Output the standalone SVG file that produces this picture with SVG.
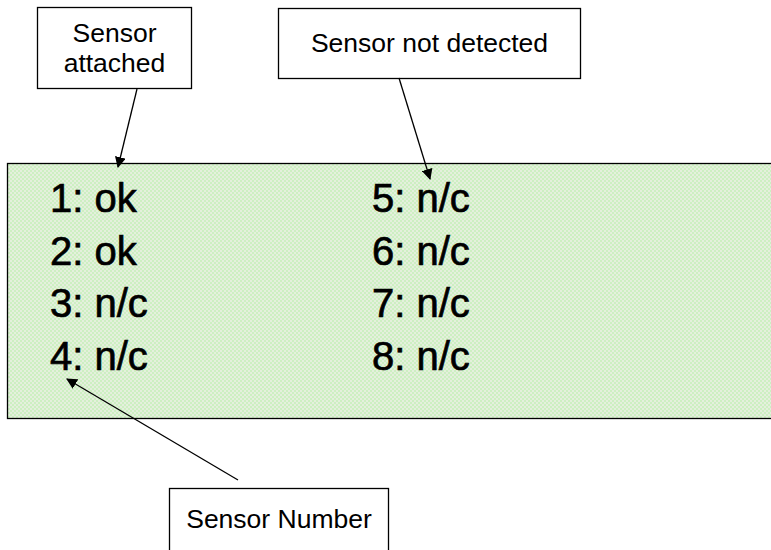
<svg xmlns="http://www.w3.org/2000/svg" width="771" height="550" viewBox="0 0 771 550">
<style>
.box{fill:#fff;stroke:#000;stroke-width:1.3}
.lbl{font-family:"Liberation Sans",Arial,sans-serif;font-size:26.5px;fill:#000;text-anchor:middle}
.big{font-family:"Liberation Sans",Arial,sans-serif;font-size:40px;fill:#000;stroke:#000;stroke-width:0.7}
.con{stroke:#000;stroke-width:1.3;fill:none;marker-end:url(#ah)}
</style>
<defs>
<pattern id="chk" width="4" height="4" patternUnits="userSpaceOnUse">
<rect width="4" height="4" fill="#e4f0dc"/>
<rect width="2" height="2" fill="#cdefc2"/>
<rect x="2" y="2" width="2" height="2" fill="#cdefc2"/>
</pattern>
<marker id="ah" viewBox="0 0 10 10" refX="9" refY="5" markerWidth="11" markerHeight="11" markerUnits="userSpaceOnUse" orient="auto">
<path d="M0,0 L10,5 L0,10 Z" fill="#000"/>
</marker>
</defs>
<g id="panel">
<rect x="7.5" y="163.5" width="780" height="255" fill="url(#chk)" stroke="#000" stroke-width="1.3"/>
<text class="big" x="50" y="212">1: ok</text>
<text class="big" x="50" y="265">2: ok</text>
<text class="big" x="50" y="317">3: n/c</text>
<text class="big" x="50" y="370">4: n/c</text>
<text class="big" x="372" y="212">5: n/c</text>
<text class="big" x="372" y="265">6: n/c</text>
<text class="big" x="372" y="317">7: n/c</text>
<text class="big" x="372" y="370">8: n/c</text>
</g>
<g id="attached">
<rect class="box" x="37.5" y="7.5" width="154" height="81"/>
<text class="lbl" x="114.5" y="42">Sensor</text>
<text class="lbl" x="114.5" y="72">attached</text>
</g>
<g id="notdetected">
<rect class="box" x="278.5" y="8.5" width="302" height="70"/>
<text class="lbl" x="429.5" y="52">Sensor not detected</text>
</g>
<g id="number">
<rect class="box" x="169.5" y="488.5" width="219" height="70"/>
<text class="lbl" x="279" y="528">Sensor Number</text>
</g>
<g id="connectors">
<line class="con" x1="137" y1="89" x2="118" y2="167"/>
<line class="con" x1="399" y1="78" x2="430" y2="179"/>
<line class="con" x1="238" y1="480" x2="67" y2="379"/>
</g>
</svg>
